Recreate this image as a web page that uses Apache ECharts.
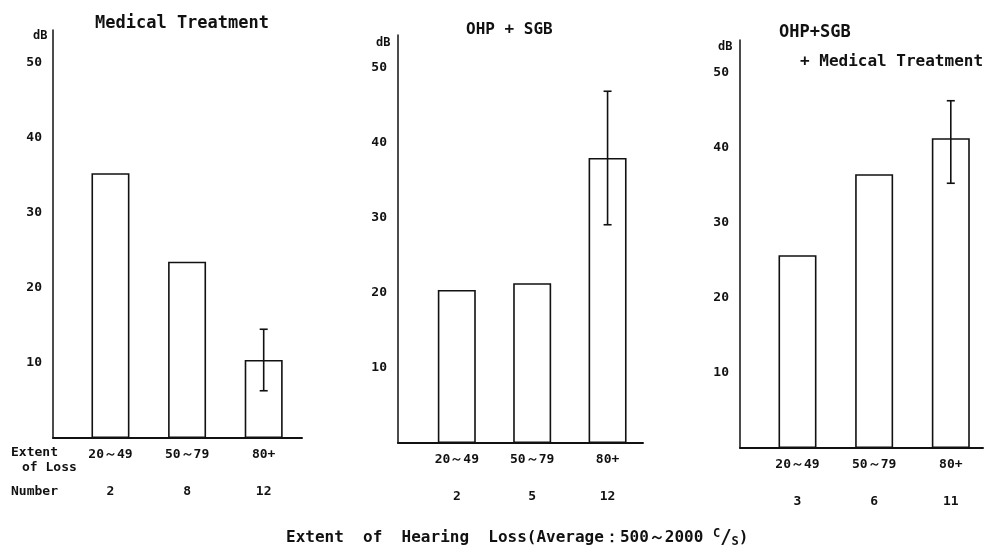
<!DOCTYPE html>
<html><head><meta charset="utf-8">
<script src="https://cdn.jsdelivr.net/npm/echarts@6/dist/echarts.min.js"></script>
<style>html,body{margin:0;padding:0;background:#fff}#c{width:988px;height:555px}</style>
</head><body><div id="c"></div>
<script>
// ---- data ----
const categories = ['20～49', '50～79', '80+'];
const yTicks = [10, 20, 30, 40, 50];
// Panel 1: Medical Treatment
const medValues = [35.3, 23.5, 10.4];
const medNumbers = [2, 8, 12];
const medErrLow = [null, null, 6.3];
const medErrHigh = [null, null, 14.5];
// Panel 2: OHP + SGB
const ohpValues = [20.4, 21.3, 38.0];
const ohpNumbers = [2, 5, 12];
const ohpErrLow = [null, null, 29.1];
const ohpErrHigh = [null, null, 46.9];
// Panel 3: OHP + SGB + Medical Treatment
const combValues = [25.7, 36.5, 41.3];
const combNumbers = [3, 6, 11];
const combErrLow = [null, null, 35.3];
const combErrHigh = [null, null, 46.3];

const panels = [
  {values: medValues, numbers: medNumbers, lo: medErrLow, hi: medErrHigh},
  {values: ohpValues, numbers: ohpNumbers, lo: ohpErrLow, hi: ohpErrHigh},
  {values: combValues, numbers: combNumbers, lo: combErrLow, hi: combErrHigh}
];

// ---- layout ----
const FONT = 'DejaVu Sans Mono';
const INK = '#111';
const grids = [
  {left: 53, top: 30, width: 249, height: 408, xmin: 0.25, xmax: 3.5},
  {left: 398, top: 35, width: 245, height: 408, xmin: 0.22, xmax: 3.47},
  {left: 740, top: 40, width: 243, height: 408, xmin: 0.25, xmax: 3.42}
];
const YMAX = 54.4;

const option = {
  backgroundColor: '#fff',
  animation: false,
  grid: grids.map(g => ({left: g.left, top: g.top, width: g.width, height: g.height, containLabel: false})),
  xAxis: [],
  yAxis: [],
  series: [],
  graphic: []
};

grids.forEach((g, i) => {
  const p = panels[i];
  option.xAxis.push({
    type: 'value', gridIndex: i, min: g.xmin, max: g.xmax, position: 'bottom',
    splitLine: {show: false}, axisTick: {show: false},
    axisLine: {show: true, lineStyle: {color: INK, width: 2}},
    axisLabel: {customValues: [1, 2, 3], formatter: v => categories[Math.round(v) - 1] || '',
      color: INK, fontFamily: FONT, fontSize: 13, fontWeight: 'bold', margin: 10}
  });
  option.xAxis.push({
    type: 'value', gridIndex: i, min: g.xmin, max: g.xmax, position: 'bottom',
    splitLine: {show: false}, axisTick: {show: false}, axisLine: {show: false},
    axisLabel: {customValues: [1, 2, 3], formatter: v => String(p.numbers[Math.round(v) - 1]),
      color: INK, fontFamily: FONT, fontSize: 13, fontWeight: 'bold', margin: 47}
  });
  option.yAxis.push({
    type: 'value', gridIndex: i, min: 0, max: YMAX,
    splitLine: {show: false}, axisTick: {show: false},
    axisLine: {show: true, lineStyle: {color: INK, width: 1.5}},
    axisLabel: {customValues: yTicks, color: INK, fontFamily: FONT, fontSize: 13, fontWeight: 'bold', margin: 11}
  });
  option.series.push({
    type: 'bar', xAxisIndex: i * 2, yAxisIndex: i, barWidth: 38,
    data: p.values.map((v, k) => [k + 1, v]),
    itemStyle: {color: '#fff', borderColor: INK, borderWidth: 1.6}
  });
  option.series.push({
    type: 'custom', xAxisIndex: i * 2, yAxisIndex: i,
    data: p.lo.map((lo, k) => [k + 1, lo, p.hi[k]]).filter(d => d[1] != null),
    renderItem: (params, api) => {
      const top = api.coord([api.value(0), api.value(2)]);
      const bot = api.coord([api.value(0), api.value(1)]);
      const c = 4;
      const st = {stroke: INK, lineWidth: 1.6};
      return {type: 'group', children: [
        {type: 'line', shape: {x1: top[0], y1: top[1], x2: bot[0], y2: bot[1]}, style: st},
        {type: 'line', shape: {x1: top[0] - c, y1: top[1], x2: top[0] + c, y2: top[1]}, style: st},
        {type: 'line', shape: {x1: bot[0] - c, y1: bot[1], x2: bot[0] + c, y2: bot[1]}, style: st}
      ]};
    },
    z: 5
  });
});

const txt = (x, y, text, size) => ({
  type: 'text', left: x, top: y, z: 10,
  style: {text: text, fill: INK, font: `bold ${size}px "${FONT}"`}
});

option.graphic = [
  txt(95, 15, 'Medical Treatment', 17),
  txt(466, 22, 'OHP + SGB', 16),
  txt(779, 24, 'OHP+SGB', 17),
  txt(800, 54, '+ Medical Treatment', 16),
  txt(33, 30, 'dB', 12),
  txt(376, 37, 'dB', 12),
  txt(718, 41, 'dB', 12),
  txt(11, 446, 'Extent', 13),
  txt(22, 461, 'of Loss', 13),
  txt(11, 485, 'Number', 13),
  {type: 'text', left: 286, top: 528, z: 10,
   style: {
     rich: {
       m: {fill: INK, font: `bold 16px "${FONT}"`},
       sup: {fill: INK, font: `bold 12px "${FONT}"`, verticalAlign: 'top', padding: [0, 0, 8, 0]},
       sl: {fill: INK, font: `bold 19px "${FONT}"`},
       sub: {fill: INK, font: `bold 12px "${FONT}"`, verticalAlign: 'bottom', padding: [6, 0, 0, 0]}
     },
     text: '{m|Extent  of  Hearing  Loss(Average：500～2000 }{sup|C}{sl|/}{sub|S}{m|)}'
   }}
];

const chart = echarts.init(document.getElementById('c'), null, {renderer: 'canvas'});
chart.setOption(option);
</script></body></html>
